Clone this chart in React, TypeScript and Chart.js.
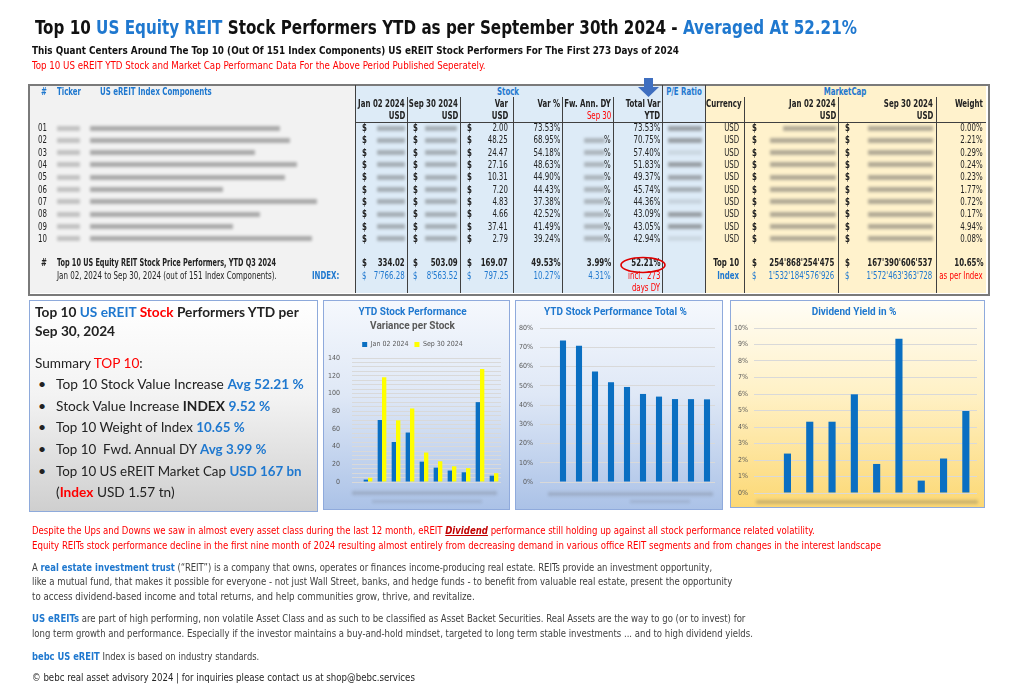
import React, { useEffect, useLayoutEffect, useRef } from 'react';
import { Chart, registerables } from 'chart.js';
Chart.register(...registerables);

// ---------- DATA ----------
const categories = ['01', '02', '03', '04', '05', '06', '07', '08', '09', '10'];
const priceJan02 = [2.72, 69.98, 45.16, 55.85, 22.96, 16.21, 12.92, 10.96, 90.17, 7.11];
const priceSep30 = [4.72, 118.23, 69.63, 83.01, 33.27, 23.41, 17.75, 15.62, 127.58, 9.9];
const varUsd = ['2.00', '48.25', '24.47', '27.16', '10.31', '7.20', '4.83', '4.66', '37.41', '2.79'];
const varPct = ['73.53%', '68.95%', '54.18%', '48.63%', '44.90%', '44.43%', '37.38%', '42.52%', '41.49%', '39.24%'];
const totalVarYtd = [73.53, 70.75, 57.4, 51.83, 49.37, 45.74, 44.36, 43.09, 43.05, 42.94];
const divYield = [null, 2.39, 4.32, 4.32, 5.98, 1.76, 9.35, 0.75, 2.09, 4.97];
const weightPct = ['0.00%', '2.21%', '0.29%', '0.24%', '0.23%', '1.77%', '0.72%', '0.17%', '4.94%', '0.08%'];
const top10Totals = ['334.02', '503.09', '169.07', '49.53%', '3.99%', '52.21%', "254'868'254'475", "167'390'606'537", '10.65%'];
const indexTotals = ["7'766.28", "8'563.52", '797.25', '10.27%', '4.31%', "1'532'184'576'926", "1'572'463'363'728"];
const varianceTicks = [0, 20, 40, 60, 80, 100, 120, 140];
const totalPctTicks = [0, 10, 20, 30, 40, 50, 60, 70, 80];
const yieldTicks = [0, 1, 2, 3, 4, 5, 6, 7, 8, 9, 10];
const seriesLabels = ['Jan 02 2024', 'Sep 30 2024'];

// ---------- STYLE ----------
const W = 1024;
const CN = '"Liberation Sans Narrow","Arial Narrow","DejaVu Sans Condensed","Roboto Condensed",sans-serif';
const SANS = 'Lato,"Noto Sans","Open Sans",sans-serif';
const BLUE = '#1f78cf';
const RED = '#ff0000';
const DARK = '#222';
const BAR_BLUE = '#0a6fc2';
const nameEnds = [280, 290, 255, 297, 285, 223, 317, 260, 233, 312];
const peOpacity = [0.5, 0.5, 0.12, 0.5, 0.45, 0.4, 0.15, 0.5, 0.5, 0.12];
const rowY = (i: number) => 128 + i * 12.33;

function T({ x, y, s = 9, c = DARK, b = false, a = 'l', f = CN, w, k, it = false, children }: any) {
  const ref = useRef<HTMLDivElement>(null);
  useLayoutEffect(() => {
    const el = ref.current;
    if (!el || !w) return;
    const nat = el.offsetWidth;
    if (nat > 0) {
      el.style.transform = (a === 'c' ? 'translateX(-50%) ' : '') + `scaleX(${w / nat})`;
    }
  }, [w, a]);
  const base = a === 'c' ? 'translateX(-50%)' : '';
  const style: any = {
    position: 'absolute', top: y - s * 0.6, fontSize: s, lineHeight: 1.2, fontFamily: f,
    fontWeight: b ? 700 : 400, color: c, whiteSpace: 'nowrap', fontStyle: it ? 'italic' : 'normal',
    transform: (base + (k ? ` scaleX(${k})` : '')).trim() || undefined,
  };
  if (a === 'l') { style.left = x; style.transformOrigin = 'left center'; }
  else if (a === 'r') { style.right = W - x; style.transformOrigin = 'right center'; }
  else { style.left = x; style.transformOrigin = 'center center'; }
  return <div ref={ref} style={style}>{children}</div>;
}

// table text: condensed horizontally
function TT(props: any) {
  return <T k={0.78} s={10} {...props} />;
}

function B({ x, y, w, h = 5, o = 0.5 }: any) {
  return <div style={{ position: 'absolute', left: x, top: y - h / 2, width: w, height: h, background: '#555', opacity: o, filter: 'blur(1.4px)', borderRadius: 1 }} />;
}

function Line({ x, y, w, h, c = '#404040' }: any) {
  return <div style={{ position: 'absolute', left: x, top: y, width: w, height: h, background: c }} />;
}

function ChartBox({ left, top, width, height, bg, border = '#8faadc', config }: any) {
  const ref = useRef<HTMLCanvasElement>(null);
  useEffect(() => {
    const chart = new Chart(ref.current as HTMLCanvasElement, config());
    return () => chart.destroy();
  }, []);
  return (
    <div style={{ position: 'absolute', left, top, width, height, boxSizing: 'border-box', border: `1px solid ${border}`, background: bg }}>
      <canvas ref={ref} width={width - 2} height={height - 2} style={{ position: 'absolute', left: 0, top: 0, width: width - 2, height: height - 2 }} />
    </div>
  );
}

const tickFont = { family: CN, size: 7 };
const titleFont = { family: 'Roboto, "Noto Sans", sans-serif', size: 10, weight: 'bold' as const };

const cfgVariance = () => ({
  type: 'bar',
  data: {
    labels: categories,
    datasets: [
      { label: seriesLabels[0], data: priceJan02, backgroundColor: BAR_BLUE },
      { label: seriesLabels[1], data: priceSep30, backgroundColor: '#ffff00' },
    ],
  },
  options: {
    animation: false, responsive: false,
    layout: { padding: { top: 3, left: 0, right: 8, bottom: 27 } },
    datasets: { bar: { categoryPercentage: 0.62, barPercentage: 1 } },
    plugins: {
      title: { display: true, text: 'YTD Stock Performance', color: BLUE, font: titleFont, padding: { top: 2, bottom: 0 } },
      subtitle: { display: true, text: 'Variance per Stock', color: '#595959', font: titleFont, padding: { top: 2, bottom: 3 } },
      legend: { display: true, labels: { boxWidth: 5, boxHeight: 5, padding: 6, color: '#595959', font: tickFont } },
      tooltip: { enabled: false },
    },
    scales: {
      x: { grid: { display: false }, border: { display: false }, ticks: { display: false }, afterFit: (s: any) => { s.height = 0; } },
      y: {
        min: 0, max: 140,
        ticks: { stepSize: 5, autoSkip: false, color: '#595959', font: tickFont, padding: 12, callback: (v: any) => (varianceTicks.includes(v) ? String(v) : '') },
        grid: { color: '#d9d9d9', tickLength: 9 },
        border: { display: false },
        afterFit: (s: any) => { s.width = 37; },
      },
    },
  },
});

const cfgTotal = () => ({
  type: 'bar',
  data: { labels: categories, datasets: [{ label: 'Total Var YTD', data: totalVarYtd, backgroundColor: BAR_BLUE }] },
  options: {
    animation: false, responsive: false,
    layout: { padding: { top: 3, left: 0, right: 7, bottom: 27 } },
    datasets: { bar: { categoryPercentage: 1, barPercentage: 0.38 } },
    plugins: {
      title: { display: true, text: 'YTD Stock Performance Total %', color: BLUE, font: titleFont, padding: { top: 2, bottom: 10 } },
      legend: { display: false },
      tooltip: { enabled: false },
    },
    scales: {
      x: { grid: { display: false }, border: { display: false }, ticks: { display: false }, afterFit: (s: any) => { s.height = 0; } },
      y: {
        min: 0, max: 80,
        ticks: { stepSize: 10, autoSkip: false, color: '#595959', font: tickFont, padding: 7, callback: (v: any) => (totalPctTicks.includes(v) ? v + '%' : '') },
        grid: { color: '#d9d9d9', tickLength: 15 },
        border: { display: false },
        afterFit: (s: any) => { s.width = 39; },
      },
    },
  },
});

const cfgYield = () => ({
  type: 'bar',
  data: { labels: categories, datasets: [{ label: 'Dividend Yield', data: divYield, backgroundColor: BAR_BLUE }] },
  options: {
    animation: false, responsive: false,
    layout: { padding: { top: 3, left: 0, right: 7, bottom: 14 } },
    datasets: { bar: { categoryPercentage: 1, barPercentage: 0.32 } },
    plugins: {
      title: { display: true, text: 'Dividend Yield in %', color: BLUE, font: titleFont, padding: { top: 2, bottom: 10 } },
      legend: { display: false },
      tooltip: { enabled: false },
    },
    scales: {
      x: { grid: { display: false }, border: { display: false }, ticks: { display: false }, afterFit: (s: any) => { s.height = 0; } },
      y: {
        min: 0, max: 10,
        ticks: { stepSize: 1, autoSkip: false, color: '#595959', font: tickFont, padding: 6, callback: (v: any) => (yieldTicks.includes(v) ? v + '%' : '') },
        grid: { color: '#d9d9d9', drawTicks: false },
        border: { display: false },
        afterFit: (s: any) => { s.width = 23; },
      },
    },
  },
});

function Table() {
  const els: any[] = [];
  categories.forEach((cat, i) => {
    const y = rowY(i);
    els.push(
      <TT key={'n' + i} x={38} y={y}>{cat}</TT>,
      <B key={'tk' + i} x={57} y={y} w={23} o={0.3} />,
      <B key={'nm' + i} x={90} y={y} w={nameEnds[i] - 90} o={0.45} />,
      <TT key={'d1' + i} x={362} y={y} b>$</TT>,
      <B key={'p1' + i} x={377} y={y} w={28} o={0.4} />,
      <TT key={'d2' + i} x={413} y={y} b>$</TT>,
      <B key={'p2' + i} x={425} y={y} w={32} o={0.4} />,
      <TT key={'d3' + i} x={467} y={y} b>$</TT>,
      <TT key={'vu' + i} x={508} y={y} a="r">{varUsd[i]}</TT>,
      <TT key={'vp' + i} x={560} y={y} a="r">{varPct[i]}</TT>,
      <TT key={'tv' + i} x={660} y={y} a="r">{totalVarYtd[i].toFixed(2) + '%'}</TT>,
      <B key={'pe' + i} x={668} y={y} w={34} o={peOpacity[i]} />,
      <TT key={'cu' + i} x={739} y={y} a="r">USD</TT>,
      <TT key={'d4' + i} x={752} y={y} b>$</TT>,
      <B key={'m1' + i} x={i === 0 ? 783 : 770} y={y} w={i === 0 ? 53 : 66} o={0.45} />,
      <TT key={'d5' + i} x={845} y={y} b>$</TT>,
      <B key={'m2' + i} x={868} y={y} w={65} o={0.45} />,
      <TT key={'wt' + i} x={983} y={y} a="r">{weightPct[i]}</TT>,
    );
    if (i > 0) {
      els.push(<B key={'fw' + i} x={584} y={y} w={21} o={0.35} />, <TT key={'fp' + i} x={611} y={y} a="r">%</TT>);
    }
  });
  const vlinesTop = [407, 460, 513, 562, 613, 744, 838, 936];
  return (
    <>
      <div style={{ position: 'absolute', left: 29, top: 85, width: 326, height: 208, background: '#f2f2f2' }} />
      <div style={{ position: 'absolute', left: 355, top: 85, width: 350, height: 208, background: '#ddebf7' }} />
      <div style={{ position: 'absolute', left: 705, top: 85, width: 281, height: 208, background: '#fff2cc' }} />
      <div style={{ position: 'absolute', left: 28, top: 84, width: 958, height: 208, border: '2px solid #7a7a7a' }} />
      <Line x={355} y={85} w={1} h={208} />
      <Line x={662} y={85} w={1} h={208} />
      <Line x={705} y={85} w={1} h={208} />
      {vlinesTop.map((x) => <Line key={x} x={x} y={97} w={1} h={196} />)}
      <Line x={355} y={122} w={631} h={1} />
      {/* headers */}
      <TT x={41} y={92} c={BLUE} b>#</TT>
      <TT x={57} y={92} c={BLUE} b>Ticker</TT>
      <TT x={100} y={92} c={BLUE} b>US eREIT Index Components</TT>
      <TT x={508} y={92} c={BLUE} a="c" b>Stock</TT>
      <TT x={684} y={92} c={BLUE} a="c" b>P/E Ratio</TT>
      <TT x={845} y={92} c={BLUE} a="c" b>MarketCap</TT>
      <TT x={405} y={104} a="r" b>Jan 02 2024</TT>
      <TT x={458} y={104} a="r" b>Sep 30 2024</TT>
      <TT x={508} y={104} a="r" b>Var</TT>
      <TT x={560} y={104} a="r" b>Var %</TT>
      <TT x={611} y={104} a="r" b>Fw. Ann. DY</TT>
      <TT x={660} y={104} a="r" b>Total Var</TT>
      <TT x={742} y={104} a="r" b>Currency</TT>
      <TT x={836} y={104} a="r" b>Jan 02 2024</TT>
      <TT x={933} y={104} a="r" b>Sep 30 2024</TT>
      <TT x={983} y={104} a="r" b>Weight</TT>
      <TT x={405} y={116} a="r" b>USD</TT>
      <TT x={458} y={116} a="r" b>USD</TT>
      <TT x={508} y={116} a="r" b>USD</TT>
      <TT x={611} y={116} a="r" c={RED}>Sep 30</TT>
      <TT x={660} y={116} a="r" b>YTD</TT>
      <TT x={836} y={116} a="r" b>USD</TT>
      <TT x={933} y={116} a="r" b>USD</TT>
      {els}
      {/* totals */}
      <TT x={41} y={263} b>#</TT>
      <TT x={57} y={263} b w={219}>Top 10 US Equity REIT Stock Price Performers, YTD Q3 2024</TT>
      <TT x={362} y={263} b>$</TT>
      <TT x={405} y={263} a="r" b>{top10Totals[0]}</TT>
      <TT x={413} y={263} b>$</TT>
      <TT x={458} y={263} a="r" b>{top10Totals[1]}</TT>
      <TT x={467} y={263} b>$</TT>
      <TT x={508} y={263} a="r" b>{top10Totals[2]}</TT>
      <TT x={560} y={263} a="r" b>{top10Totals[3]}</TT>
      <TT x={611} y={263} a="r" b>{top10Totals[4]}</TT>
      <TT x={660} y={263} a="r" b>{top10Totals[5]}</TT>
      <TT x={739} y={263} a="r" b>Top 10</TT>
      <TT x={752} y={263} b>$</TT>
      <TT x={834} y={263} a="r" b>{top10Totals[6]}</TT>
      <TT x={845} y={263} b>$</TT>
      <TT x={932} y={263} a="r" b>{top10Totals[7]}</TT>
      <TT x={983} y={263} a="r" b>{top10Totals[8]}</TT>
      <TT x={57} y={276} w={220}>Jan 02, 2024 to Sep 30, 2024 (out of 151 Index Components).</TT>
      <TT x={312} y={276} c={BLUE} b>INDEX:</TT>
      <TT x={362} y={276} c={BLUE}>$</TT>
      <TT x={405} y={276} a="r" c={BLUE}>{indexTotals[0]}</TT>
      <TT x={413} y={276} c={BLUE}>$</TT>
      <TT x={458} y={276} a="r" c={BLUE}>{indexTotals[1]}</TT>
      <TT x={467} y={276} c={BLUE}>$</TT>
      <TT x={508} y={276} a="r" c={BLUE}>{indexTotals[2]}</TT>
      <TT x={560} y={276} a="r" c={BLUE}>{indexTotals[3]}</TT>
      <TT x={611} y={276} a="r" c={BLUE}>{indexTotals[4]}</TT>
      <TT x={660} y={276} a="r" c={RED}>incl.&nbsp; 273</TT>
      <TT x={660} y={288} a="r" c={RED}>days DY</TT>
      <TT x={739} y={276} a="r" c={BLUE} b>Index</TT>
      <TT x={752} y={276} c={BLUE}>$</TT>
      <TT x={834} y={276} a="r" c={BLUE}>{indexTotals[5]}</TT>
      <TT x={845} y={276} c={BLUE}>$</TT>
      <TT x={932} y={276} a="r" c={BLUE}>{indexTotals[6]}</TT>
      <TT x={983} y={276} a="r" c={RED}>as per Index</TT>
      {/* arrow + ellipse */}
      <svg style={{ position: 'absolute', left: 630, top: 77, overflow: 'visible' }} width={40} height={26}>
        <path d="M14 1 H23 V10 H29 L18.5 20 L8 10 H14 Z" fill="#3f6fc0" />
      </svg>
      <svg style={{ position: 'absolute', left: 615, top: 254, overflow: 'visible' }} width={56} height={24}>
        <ellipse cx={28} cy={11} rx={22} ry={7.5} fill="none" stroke="#e00000" strokeWidth={1.6} />
      </svg>
    </>
  );
}

function Summary() {
  const bl = { color: BLUE, fontWeight: 700 };
  const bullets = [
    { y: 384, w: 248, c: <>Top 10 Stock Value Increase <span style={bl}>Avg 52.21 %</span></> },
    { y: 406, w: 214, c: <>Stock Value Increase <b>INDEX</b> <span style={bl}>9.52 %</span></> },
    { y: 427, w: 189, c: <>Top 10 Weight of Index <span style={bl}>10.65 %</span></> },
    { y: 449, w: 211, c: <>Top 10&nbsp; Fwd. Annual DY <span style={bl}>Avg 3.99 %</span></> },
    { y: 471, w: 246, c: <>Top 10 US eREIT Market Cap <span style={bl}>USD 167 bn</span></> },
  ];
  return (
    <>
      <div style={{ position: 'absolute', left: 29, top: 300, width: 289, height: 212, boxSizing: 'border-box', border: '1px solid #8eaadb', background: 'linear-gradient(180deg,#ffffff 0%,#f3f3f3 45%,#cfcfcf 100%)' }} />
      <T x={35} y={313} s={13} b f={SANS} w={264}>Top 10 <span style={{ color: BLUE }}>US eREIT</span> <span style={{ color: RED }}>Stock</span> Performers YTD per</T>
      <T x={35} y={332} s={13} b f={SANS} w={80}>Sep 30, 2024</T>
      <T x={35} y={363} s={14} f={SANS} w={108}>Summary <span style={{ color: RED }}>TOP 10</span>:</T>
      {bullets.map((bt, i) => (
        <React.Fragment key={i}>
          <T x={38} y={bt.y} s={14} f={SANS}>•</T>
          <T x={56} y={bt.y} s={14} f={SANS} w={bt.w}>{bt.c}</T>
        </React.Fragment>
      ))}
      <T x={56} y={492} s={14} f={SANS} w={119}>(<span style={{ color: RED, fontWeight: 700 }}>Index</span> USD 1.57 tn)</T>
    </>
  );
}

export default function App() {
  const lb = { color: BLUE, fontWeight: 700 };
  return (
    <div style={{ position: 'absolute', left: 0, top: 0, width: 1024, height: 698, background: '#fff', overflow: 'hidden' }}>
      <T x={35} y={27} s={20} b c="#111" w={822}>Top 10 <span style={{ color: BLUE }}>US Equity REIT</span> Stock Performers YTD as per September 30th 2024 - <span style={{ color: BLUE }}>Averaged At 52.21%</span></T>
      <T x={32} y={51} s={11} b c="#111" w={647}>This Quant Centers Around The Top 10 (Out Of 151 Index Components) US eREIT Stock Performers For The First 273 Days of 2024</T>
      <T x={32} y={66} s={10} c={RED} w={453}>Top 10 US eREIT YTD Stock and Market Cap Performanc Data For the Above Period Published Seperately.</T>

      <Table />
      <Summary />

      <ChartBox left={323} top={300} width={187} height={210} bg="linear-gradient(180deg,#f5f8fd 0%,#dfe8f6 45%,#abc2e7 100%)" config={cfgVariance} />
      <B x={352} y={493} w={145} h={4} o={0.22} />
      <B x={372} y={501} w={110} h={3} o={0.16} />
      <ChartBox left={515} top={300} width={208} height={210} bg="linear-gradient(180deg,#f5f8fd 0%,#dfe8f6 45%,#abc2e7 100%)" config={cfgTotal} />
      <B x={548} y={494} w={165} h={4} o={0.22} />
      <B x={630} y={501} w={60} h={3} o={0.16} />
      <ChartBox left={730} top={300} width={255} height={208} bg="linear-gradient(180deg,#fffdf6 0%,#fff1c6 45%,#fcd874 100%)" config={cfgYield} />
      <B x={756} y={502} w={222} h={4} o={0.28} />

      <T x={32} y={531} s={11} c={RED} w={783}>Despite the Ups and Downs we saw in almost every asset class during the last 12 month, eREIT <span style={{ color: '#c00000', fontWeight: 700, fontStyle: 'italic', textDecoration: 'underline' }}>Dividend</span> performance still holding up against all stock performance related volatility.</T>
      <T x={32} y={546} s={11} c={RED} w={849}>Equity REITs stock performance decline in the first nine month of 2024 resulting almost entirely from decreasing demand in various office REIT segments and from changes in the interest landscape</T>
      <T x={32} y={568} s={11} c="#404040" w={680}>A <span style={lb}>real estate investment trust</span> (“REIT”) is a company that owns, operates or finances income-producing real estate. REITs provide an investment opportunity,</T>
      <T x={32} y={582} s={11} c="#404040" w={700}>like a mutual fund, that makes it possible for everyone - not just Wall Street, banks, and hedge funds - to benefit from valuable real estate, present the opportunity</T>
      <T x={32} y={597} s={11} c="#404040" w={443}>to access dividend-based income and total returns, and help communities grow, thrive, and revitalize.</T>
      <T x={32} y={619} s={11} c="#404040" w={713}><span style={lb}>US eREITs</span> are part of high performing, non volatile Asset Class and as such to be classified as Asset Backet Securities. Real Assets are the way to go (or to invest) for</T>
      <T x={32} y={634} s={11} c="#404040" w={721}>long term growth and performance. Especially if the investor maintains a buy-and-hold mindset, targeted to long term stable investments ... and to high dividend yields.</T>
      <T x={32} y={657} s={11} c="#404040" w={227}><span style={lb}>bebc US eREIT</span> Index is based on industry standards.</T>
      <T x={32} y={678} s={11} c="#262626" w={383}>© bebc real asset advisory 2024 | for inquiries please contact us at shop@bebc.services</T>
    </div>
  );
}
